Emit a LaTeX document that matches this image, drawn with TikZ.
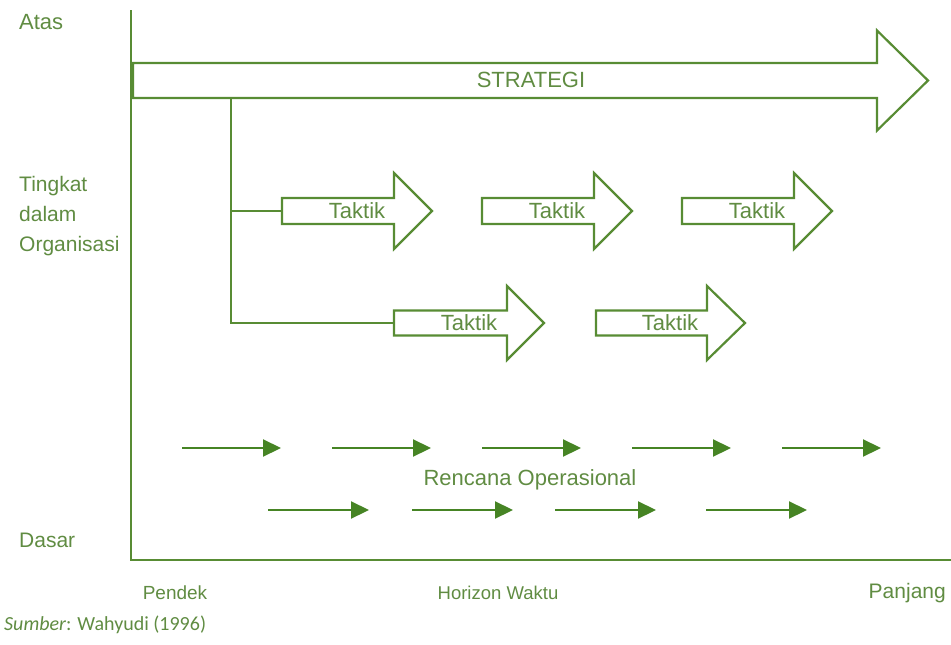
\documentclass[tikz,border=0pt]{standalone}
\usepackage{fontspec}
\setmainfont{Liberation Sans}
\newfontfamily\srcfont{Carlito}
\usetikzlibrary{arrows.meta}
\definecolor{gline}{RGB}{88,140,52}
\definecolor{gtext}{RGB}{96,140,66}
\definecolor{gfill}{RGB}{70,132,36}
\newcommand\fatarrow[7]{%
  \draw[bigarr] (#1,#2-#5) -- (#3,#2-#5) -- (#3,#2-#6) -- (#4,#2) -- (#3,#2+#6) -- (#3,#2+#5) -- (#1,#2+#5) -- cycle;
  \coordinate (#7-w) at (#1,#2);
  \node[lbl] (#7) at ({(#1+#4)/2},#2) {};
}
\tikzset{
  bigarr/.style={draw=gline, line width=2.2pt, line join=miter, fill=white},
  axisline/.style={draw=gline, line width=2.2pt},
  conn/.style={draw=gline, line width=2.2pt},
  small/.style={draw=gfill, line width=2.2pt, -{Triangle[length=18pt,width=17pt]}},
  lbl/.style={text=gtext, font=\fontsize{22}{26}\selectfont, inner sep=0pt},
}
\begin{document}
\begin{tikzpicture}[x=1pt,y=-1pt]
\useasboundingbox (0,0) rectangle (951,645);
% axes
\coordinate (ytop) at (131,10);
\coordinate (orig) at (131,560);
\coordinate (xend) at (951,560);
\draw[axisline] (ytop) -- (orig) -- (xend);
% strategy
\fatarrow{133}{80.5}{877}{928}{17.5}{50}{strat}
\node[lbl] (stratlbl) at (531,80) {STRATEGI};
% tactics row 1
\fatarrow{282}{211}{394}{432}{13}{38}{t1}
\fatarrow{482}{211}{594}{632}{13}{38}{t2}
\fatarrow{682}{211}{794}{832}{13}{38}{t3}
% tactics row 2
\fatarrow{394}{323}{507}{544}{12.5}{37}{t4}
\fatarrow{596}{323}{707}{745}{12.5}{37}{t5}
\node[lbl] (t1lbl) at (357,211) {Taktik};
\node[lbl] (t2lbl) at (557,211) {Taktik};
\node[lbl] (t3lbl) at (757,211) {Taktik};
\node[lbl] (t4lbl) at (469,323) {Taktik};
\node[lbl] (t5lbl) at (670,323) {Taktik};
% connectors
\coordinate (sfoot) at (231,98.5);
\coordinate (b1) at (231,211);
\coordinate (b2) at (231,323);
\draw[conn] (sfoot) -- (b2) -- (t4-w);
\draw[conn] (b1) -- (t1-w);
% operational plans
\foreach \s [count=\i] in {182,332,482,632,782} {
  \coordinate (ra\i) at (\s,448);
  \coordinate (rb\i) at (\s+99,448);
  \draw[small] (ra\i) -- (rb\i);
}
\foreach \s [count=\i] in {268,412,555,706} {
  \coordinate (sa\i) at (\s,510);
  \coordinate (sb\i) at (\s+101,510);
  \draw[small] (sa\i) -- (sb\i);
}
\node[lbl] (rop) at (530,480) {Rencana Operasional};
% axis labels
\node[lbl, anchor=west] (atas) at (19,22) {Atas};
\node[lbl, anchor=north west, align=left, font=\fontsize{21}{30}\selectfont] (tingkat) at (19,176) {Tingkat\\dalam\\Organisasi};
\node[lbl, anchor=west, font=\fontsize{21}{26}\selectfont] (dasar) at (19,540) {Dasar};
\node[lbl, font=\fontsize{19}{22}\selectfont] (pendek) at (175,593) {Pendek};
\node[lbl, font=\fontsize{18.5}{22}\selectfont] (horizon) at (498,593) {Horizon Waktu};
\node[lbl, anchor=east, font=\fontsize{21}{22}\selectfont] (panjang) at (946,593) {Panjang};
\node[lbl, anchor=west, font=\srcfont\fontsize{20}{24}\selectfont] (src) at (4,625) {\itshape Sumber\upshape: Wahyudi (1996)};
\end{tikzpicture}
\end{document}
